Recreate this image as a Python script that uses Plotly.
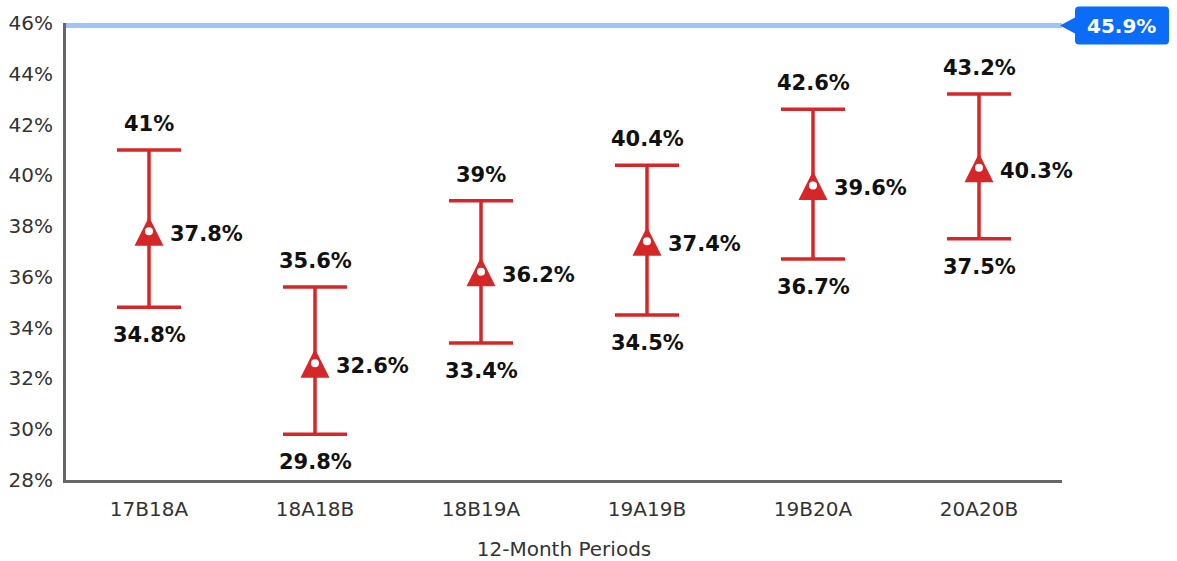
import plotly.graph_objects as go

# 12-month periods and their estimates (percent)
periods = ["17B18A", "18A18B", "18B19A", "19A19B", "19B20A", "20A20B"]
estimate = [37.8, 32.6, 36.2, 37.4, 39.6, 40.3]
lower = [34.8, 29.8, 33.4, 34.5, 36.7, 37.5]
upper = [41.0, 35.6, 39.0, 40.4, 42.6, 43.2]
target = 45.9
y_ticks = [28, 30, 32, 34, 36, 38, 40, 42, 44, 46]
Y_MIN, Y_MAX = 28, 46

RED = "#d62728"
FONT = "DejaVu Sans"


def pct(v):
    return f"{v:g}%"


fig = go.Figure()

# Interval bars with the estimate as a centered triangle
fig.add_trace(go.Scatter(
    x=periods, y=estimate, mode="markers",
    marker=dict(symbol="arrow-down", angle=180, standoff=14.5, size=29, color=RED,
                line=dict(width=0)),
    error_y=dict(type="data", symmetric=False,
                 array=[u - e for u, e in zip(upper, estimate)],
                 arrayminus=[e - l for e, l in zip(estimate, lower)],
                 color=RED, thickness=3.5, width=32),
    hoverinfo="skip", showlegend=False,
))
fig.add_trace(go.Scatter(
    x=periods, y=estimate, mode="markers",
    marker=dict(symbol="circle", size=8, color="white", line=dict(width=0)),
    hoverinfo="skip", showlegend=False,
))

annotations = []
label_font = dict(family=FONT, size=21, color="#111111")
for p, e, lo, hi in zip(periods, estimate, lower, upper):
    annotations.append(dict(x=p, y=hi, text=f"<b>{pct(hi)}</b>", showarrow=False,
                            yshift=26, font=label_font))
    annotations.append(dict(x=p, y=lo, text=f"<b>{pct(lo)}</b>", showarrow=False,
                            yshift=-28, font=label_font))
    annotations.append(dict(x=p, y=e, text=f"<b>{pct(e)}</b>", showarrow=False,
                            xanchor="left", xshift=19, yshift=-3, font=label_font))

# Target value callout (box positioned in paper units so it is not clipped)
target_paper = (target - Y_MIN) / (Y_MAX - Y_MIN)
annotations.append(dict(xref="paper", yref="paper", x=1.0602, y=target_paper,
                        text=f"<b>{pct(target)}</b>", showarrow=False,
                        xanchor="center", yanchor="middle",
                        font=dict(family=FONT, size=20, color="white")))

shapes = [
    dict(type="line", xref="paper", yref="y", x0=0, x1=1.0, y0=target, y1=target,
         line=dict(color="#9fc5f8", width=5), layer="above"),
    dict(type="path", xref="paper", yref="paper", xsizemode="pixel", ysizemode="pixel",
         xanchor=1.0, yanchor=target_paper,
         path=("M -2,0 L 13,8 L 13,15 Q 13,19 17,19 L 103,19 Q 107,19 107,15 "
               "L 107,-15 Q 107,-19 103,-19 L 17,-19 Q 13,-19 13,-15 L 13,-8 Z"),
         fillcolor="#0b6cf7", line=dict(width=0), layer="above"),
]

fig.update_layout(
    width=1177, height=561,
    margin=dict(l=66, r=115, t=23, b=81, autoexpand=False),
    paper_bgcolor="white", plot_bgcolor="white",
    font=dict(family=FONT, size=20, color="#333333"),
    showlegend=False,
    annotations=annotations,
    shapes=shapes,
    xaxis=dict(
        type="category", range=[-0.5, 5.5], automargin=False,
        showline=True, linecolor="#666666", linewidth=3,
        showgrid=False, zeroline=False,
        ticks="outside", ticklen=9, tickcolor="rgba(0,0,0,0)",
        tickfont=dict(family=FONT, size=20, color="#333333"),
        title=dict(text="12-Month Periods", standoff=23,
                   font=dict(family=FONT, size=20, color="#333333")),
    ),
    yaxis=dict(
        range=[Y_MIN, Y_MAX], tickvals=y_ticks, ticktext=[pct(v) for v in y_ticks],
        automargin=False,
        showline=True, linecolor="#666666", linewidth=3,
        showgrid=False, zeroline=False,
        ticks="outside", ticklen=6, tickcolor="rgba(0,0,0,0)",
        tickfont=dict(family=FONT, size=20, color="#333333"),
    ),
)

fig.write_html("out.html")
